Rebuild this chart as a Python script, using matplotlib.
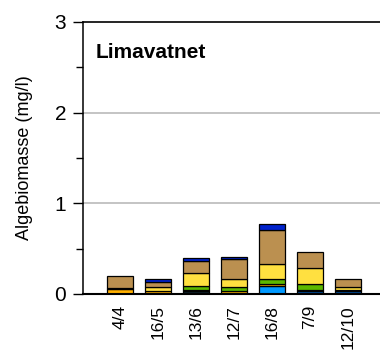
import matplotlib
matplotlib.use("Agg")
import matplotlib.pyplot as plt
import numpy as np

plt.rcParams['font.family'] = ['Liberation Sans', 'DejaVu Sans']

dates = ["4/4", "16/5", "13/6", "12/7", "16/8", "7/9", "12/10"]

# stacked algae groups, bottom to top (mg/l)
light_blue = [0, 0, 0, 0, 0.085, 0, 0]
dark_blue = [0, 0, 0, 0, 0, 0.035, 0.03]
navy = [0, 0, 0.03, 0, 0, 0.01, 0.01]
orange = [0.05, 0.03, 0.01, 0.03, 0.025, 0, 0]
green = [0, 0, 0.05, 0.045, 0.06, 0.06, 0]
yellow = [0.02, 0.05, 0.14, 0.095, 0.16, 0.185, 0.04]
brown = [0.13, 0.055, 0.135, 0.215, 0.38, 0.17, 0.085]
top_blue = [0, 0.025, 0.03, 0.025, 0.06, 0, 0]

series = [light_blue, dark_blue, navy, orange, green, yellow, brown, top_blue]
colors = ["#0099ff", "#0055aa", "#10232c", "#ffb000", "#5cb800", "#ffe040", "#bb9050", "#0022cc"]

fig = plt.figure(figsize=(3.80, 3.51), dpi=100)
ax = fig.add_axes([0.2176, 0.1624, 0.7824, 0.775])

x = np.arange(len(dates))
bottom = np.zeros(len(dates))
for vals, col in zip(series, colors):
    v = np.array(vals, dtype=float)
    lw = np.where(v > 0, 0.9, 0.0)
    ax.bar(x, v, width=0.67, bottom=bottom, color=col, edgecolor="black",
           linewidth=lw, zorder=3)
    bottom += v

ax.set_ylim(0, 3)
ax.set_xlim(-0.98, 6.84)
ax.set_yticks([0, 1, 2, 3])
ax.set_yticks([0.5, 1.5, 2.5], minor=True)
ax.set_yticklabels(["0", "1", "2", "3"], fontsize=15)
ax.tick_params(axis='y', which='major', length=7, width=1, direction='out', pad=5)
ax.tick_params(axis='y', which='minor', length=5, width=1, direction='out')
ax.set_xticks(x)
ax.set_xticklabels(dates, rotation=90, fontsize=12.5)
ax.tick_params(axis='x', length=0, pad=8)

for yv in [1, 2]:
    ax.axhline(yv, color="#b4b4b4", linewidth=1.1, zorder=1)

ax.spines['right'].set_visible(False)
ax.spines['top'].set_linewidth(1.2)
ax.spines['left'].set_linewidth(1.1)
ax.spines['bottom'].set_linewidth(1.5)
ax.spines['bottom'].set_zorder(4)

ax.set_ylabel("Algebiomasse (mg/l)", fontsize=13, labelpad=15)
ax.text(0.045, 0.888, "Limavatnet", transform=ax.transAxes, fontsize=15,
        fontweight='bold', ha='left', va='center')

fig.savefig("out.png", dpi=100)
